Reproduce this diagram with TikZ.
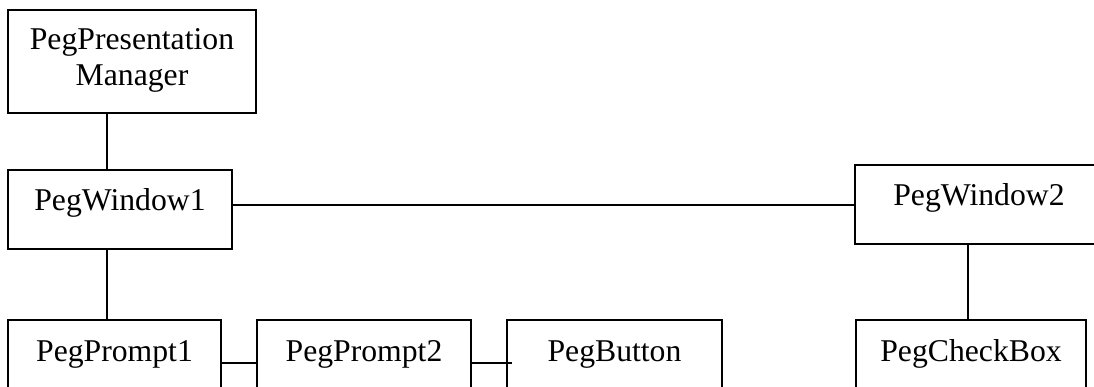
\documentclass[tikz,border=0pt]{standalone}
\usepackage{fontspec}
\setmainfont{Liberation Serif}
\begin{document}
\begin{tikzpicture}[x=1pt, y=-1pt,
  classbox/.style={draw, line width=1.7pt, inner xsep=0pt, inner ysep=0pt, outer sep=0pt,
    anchor=north west, font=\fontsize{31.7}{36}\selectfont, text height=41pt},
  link/.style={line width=1.5pt}]
  \clip (0,0) rectangle (1094,387);
  \fill[white] (0,0) rectangle (1094,387);

  % class boxes
  \node[classbox, align=center, minimum width=248pt, text height=76pt, text depth=27pt]
    (ppm) at (8,10) {PegPresentation\\Manager};
  \node[classbox, minimum width=224pt, text depth=38pt] (pw1) at (8,170) {PegWindow1};
  \node[classbox, minimum width=248pt, text depth=38pt] (pw2) at (855,165) {PegWindow2};
  \node[classbox, minimum width=213pt, text depth=40pt] (pp1) at (8,320) {PegPrompt1};
  \node[classbox, minimum width=214pt, text depth=40pt] (pp2) at (257,320) {PegPrompt2};
  \node[classbox, minimum width=215pt, text depth=40pt] (pb) at (507,320) {PegButton};
  \node[classbox, minimum width=230pt, text depth=40pt] (pcb) at (856,320) {PegCheckBox};

  % connector guides
  \coordinate (colA) at (107,0);
  \coordinate (colB) at (968,0);
  \coordinate (rowA) at (0,205);
  \coordinate (rowB) at (0,363);
  \coordinate (tail) at (512,363);

  % connectors
  \draw[link] (ppm.south -| colA) -- (pw1.north -| colA);
  \draw[link] (pw1.south -| colA) -- (pp1.north -| colA);
  \draw[link] (pw1.east |- rowA) -- (pw2.west |- rowA);
  \draw[link] (pw2.south -| colB) -- (pcb.north -| colB);
  \draw[link] (pp1.east |- rowB) -- (pp2.west |- rowB);
  \draw[link] (pp2.east |- rowB) -- (tail);
\end{tikzpicture}
\end{document}
